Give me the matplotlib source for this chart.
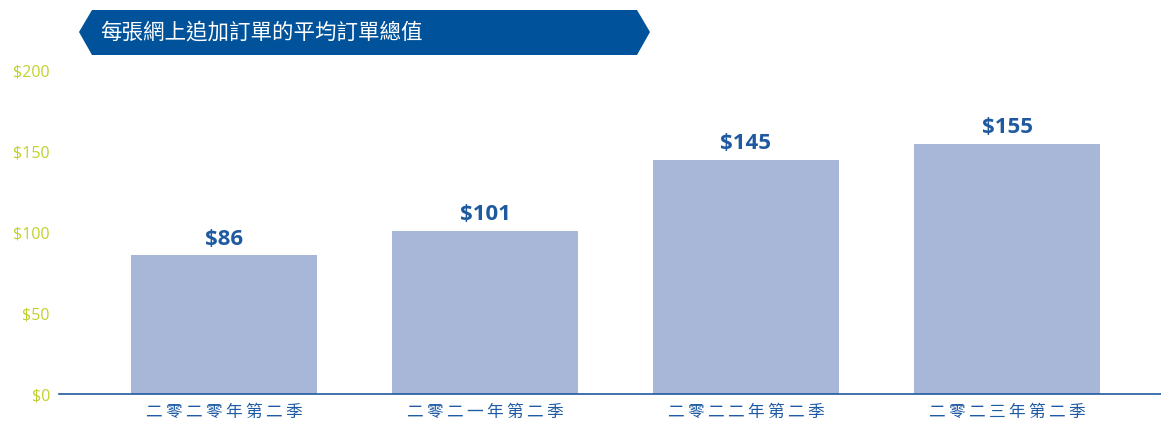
import matplotlib
matplotlib.use('Agg')
from matplotlib import pyplot as plt
from matplotlib.patches import Polygon

title = '每張網上追加訂單的平均訂單總值'
quarters = ['二零二零年第二季', '二零二一年第二季', '二零二二年第二季', '二零二三年第二季']
values = [86, 101, 145, 155]
yticks = [0, 50, 100, 150, 200]

W, H = 1161, 422
fig = plt.figure(figsize=(W / 100, H / 100), dpi=100)
ax = fig.add_axes([59 / W, 1 - 394 / H, 1 - 59 / W, (394 - 71) / H])

x = range(len(values))
ax.bar(x, values, width=0.713, color='#a8b6d8', zorder=2)
for i, v in zip(x, values):
    ax.annotate('$' + str(v), (i, v), xytext=(0, 4), textcoords='offset points',
                ha='center', va='bottom', fontsize=16, fontweight='bold',
                color='#1f5aa0', family='Open Sans')

ax.set_xlim(-0.632, 3.59)
ax.set_ylim(0, 200)
ax.set_yticks(yticks)
ax.set_yticklabels(['$' + str(t) for t in yticks], color='#c2d02c',
                   fontsize=11.5, family='Open Sans')
ax.set_xticks(list(x))
# letter-spaced category labels
spaced = ['\u2009'.join(q) for q in quarters]
ax.set_xticklabels(spaced, color='#1f5ba5', fontsize=12,
                   family=['Noto Sans CJK TC', 'DejaVu Sans'])
ax.tick_params(axis='both', length=0)
ax.tick_params(axis='y', pad=6.5)
ax.tick_params(axis='x', pad=7)
for s in ['top', 'right', 'left']:
    ax.spines[s].set_visible(False)
ax.spines['bottom'].set_color('#1f5aa0')
ax.spines['bottom'].set_linewidth(1.2)

# banner
pts = [(92, 10), (637, 10), (650, 32), (637, 55), (92, 55), (79, 32)]
banner = Polygon([(px / W, 1 - py / H) for px, py in pts], closed=True,
                 transform=fig.transFigure, facecolor='#00529b', edgecolor='none')
fig.patches.append(banner)
fig.text(100 / W, 1 - 33 / H, title, color='white', fontsize=15.5, va='center',
         family=['Noto Sans CJK TC', 'DejaVu Sans'])

fig.savefig('out.png', dpi=100)
